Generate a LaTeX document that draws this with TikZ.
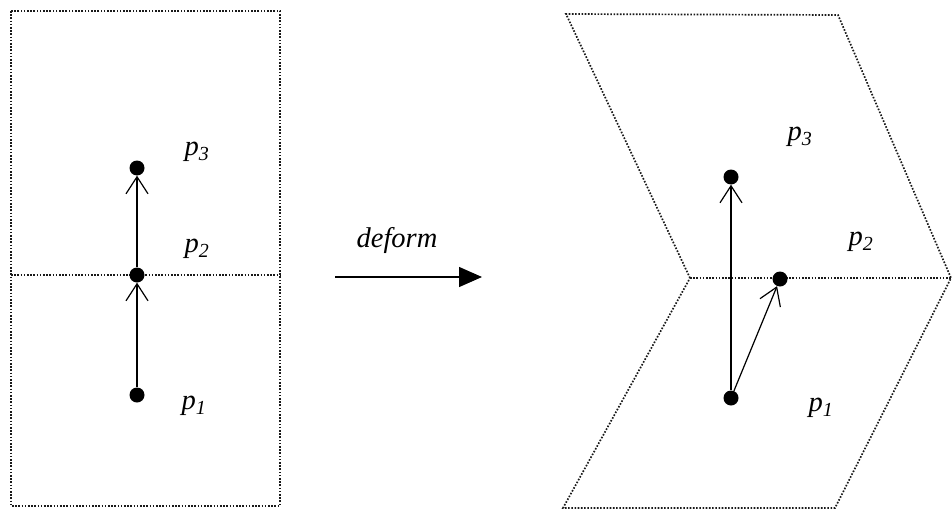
\documentclass[tikz,border=0pt]{standalone}
\usepackage{fontspec}
\setmainfont{Liberation Serif}
\usetikzlibrary{arrows.meta}
\tikzset{
  frame/.style={draw=black!90, line width=1.7pt, dash pattern=on 1.6pt off 1.6pt},
  pt/.style={circle, fill=black, inner sep=0pt, minimum size=15pt},
  vec/.style={draw, line width=1.2pt, -{Straight Barb[length=17pt,width=22pt,line width=1.2pt]}},
  lbl/.style={font=\fontsize{28.5}{32}\selectfont\itshape, inner sep=0pt},
  bigarrow/.style={draw, line width=1.3pt, -{Triangle[length=23pt,width=20pt]}}
}
\newcommand{\plabel}[1]{p\textsubscript{#1}}
\begin{document}
\begin{tikzpicture}[x=1pt, y=-1pt]
  \useasboundingbox (0,0) rectangle (952,511);

  % original sheet with its crease
  \coordinate (LA) at (11,11);
  \coordinate (LB) at (280,506);
  \draw[frame] (LA) rectangle (LB);
  \coordinate (LM1) at (11,275);
  \coordinate (LM2) at (280,275);
  \draw[frame] (LM1) -- (LM2);

  \node[pt] (a1) at (137,395) {};
  \node[pt] (a2) at (137,275) {};
  \node[pt] (a3) at (137,168) {};
  \draw[vec] (a1) -- (a2);
  \draw[vec] (a2) -- (a3);

  \node[lbl] (la3) at (197,152) {\plabel{3}};
  \node[lbl] (la2) at (197,249) {\plabel{2}};
  \node[lbl] (la1) at (194,406) {\plabel{1}};

  % deformation arrow
  \coordinate (d0) at (335,277);
  \coordinate (d1) at (482,277);
  \draw[bigarrow] (d0) -- (d1);
  \node[lbl] (dl) at (397,240) {deform};

  % deformed sheet: two sheared halves meeting at the crease
  \coordinate (TL) at (566,14);
  \coordinate (TR) at (838,15);
  \coordinate (ML) at (690,278);
  \coordinate (MR) at (951,278);
  \coordinate (BL) at (563,508);
  \coordinate (BR) at (835,508);
  \draw[frame] (ML) -- (TL) -- (TR) -- (MR) -- (BR) -- (BL) -- cycle;
  \draw[frame] (ML) -- (MR);

  \node[pt] (b1) at (731,398) {};
  \node[pt] (b2) at (780,279) {};
  \node[pt] (b3) at (731,177) {};
  \draw[vec] (b1) -- (b2);
  \draw[vec] (b1) -- (b3);

  \node[lbl] (lb3) at (800,137) {\plabel{3}};
  \node[lbl] (lb2) at (861,242) {\plabel{2}};
  \node[lbl] (lb1) at (821,408) {\plabel{1}};
\end{tikzpicture}
\end{document}
